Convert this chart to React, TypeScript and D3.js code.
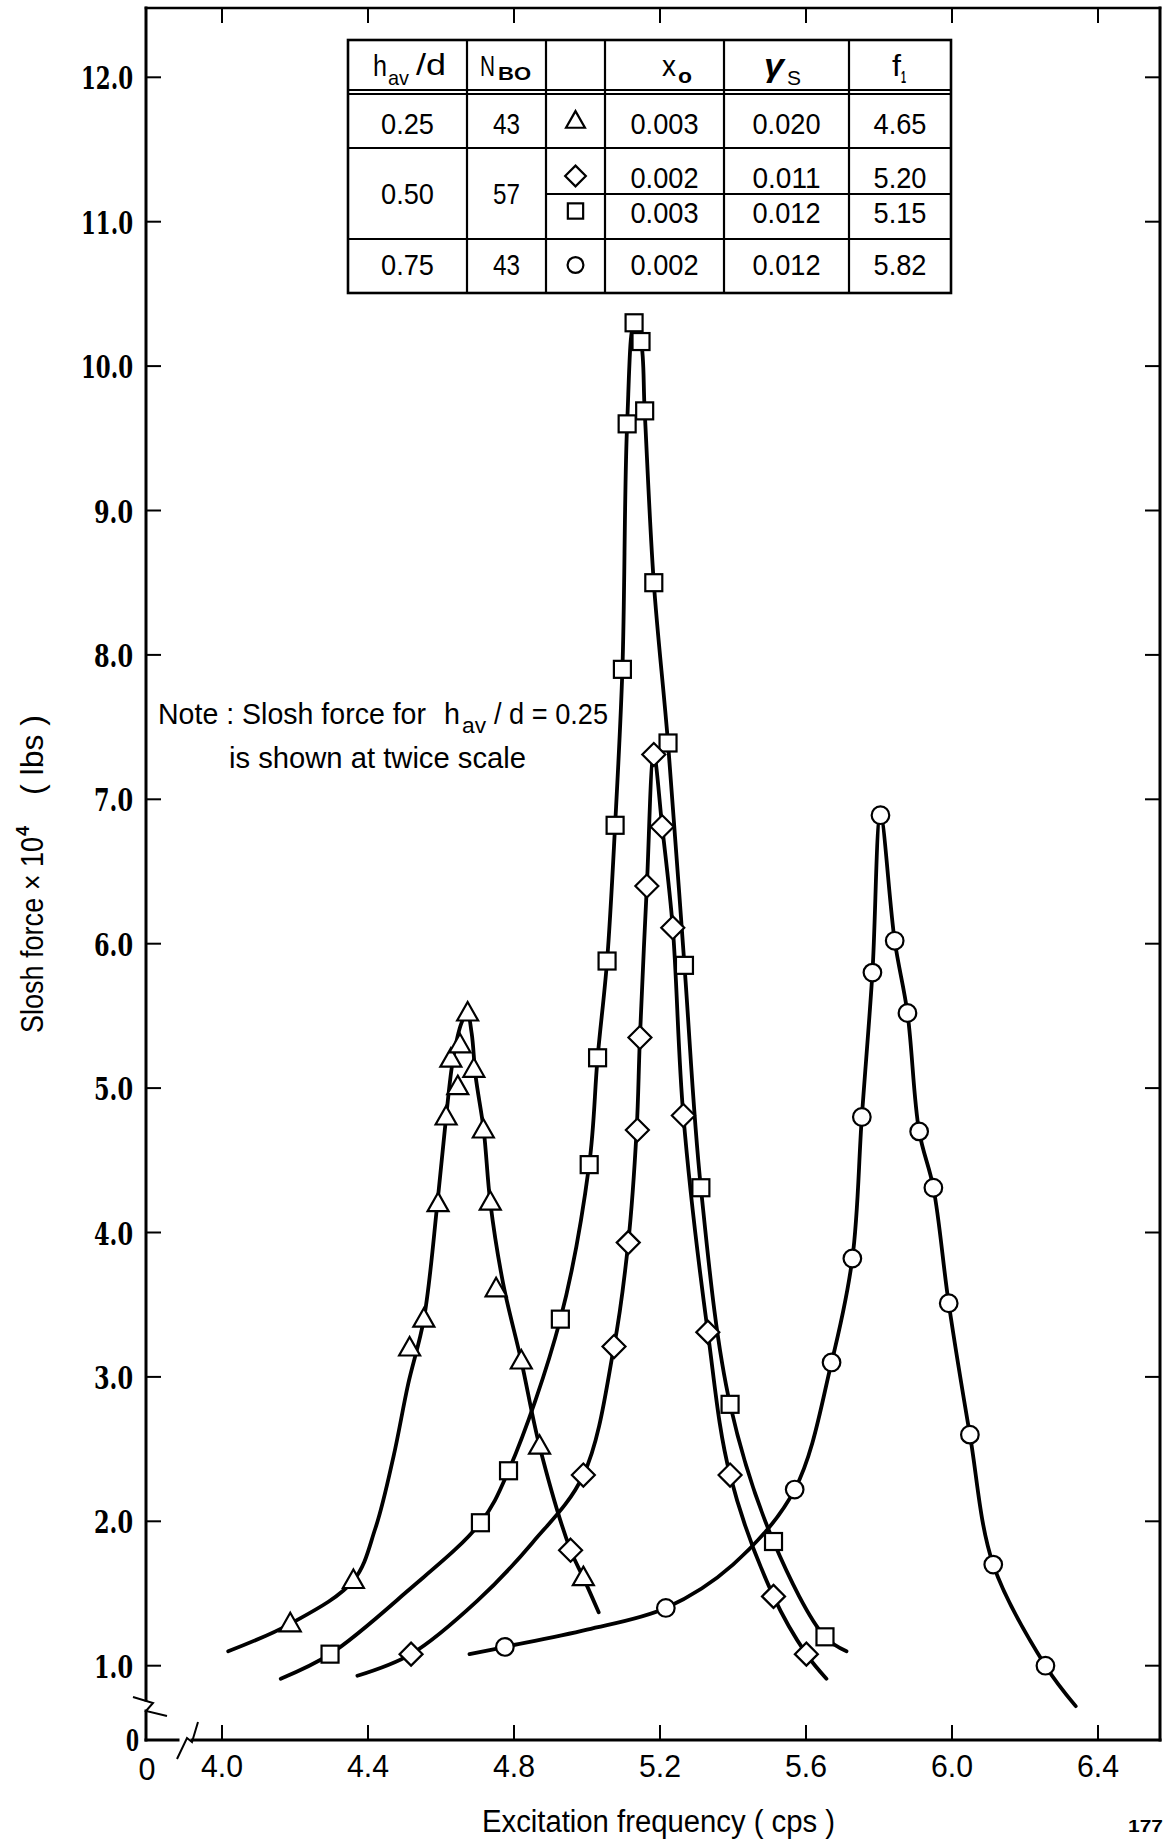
import React from "react";
import * as d3 from "d3";

// ---------- axis ticks ----------
const xTickValues = [4.0, 4.4, 4.8, 5.2, 5.6, 6.0, 6.4];
const xTickLabels = ["4.0", "4.4", "4.8", "5.2", "5.6", "6.0", "6.4"];
const yTickValues = [1, 2, 3, 4, 5, 6, 7, 8, 9, 10, 11, 12];
const yTickLabels = ["1.0", "2.0", "3.0", "4.0", "5.0", "6.0", "7.0", "8.0", "9.0", "10.0", "11.0", "12.0"];

// ---------- measured points [frequency (cps), slosh force x 10^4 (lbs)] ----------
const trianglePoints: [number, number][] = [
  [4.187, 1.29], [4.36, 1.59], [4.514, 3.2], [4.553, 3.4], [4.592, 4.2], [4.614, 4.8],
  [4.627, 5.2], [4.646, 5.01], [4.652, 5.3], [4.673, 5.52], [4.69, 5.13], [4.716, 4.71],
  [4.735, 4.21], [4.751, 3.61], [4.82, 3.11], [4.87, 2.52], [4.99, 1.61],
];
const diamondPoints: [number, number][] = [
  [4.518, 1.08], [4.955, 1.8], [4.99, 2.32], [5.074, 3.21], [5.113, 3.93], [5.138, 4.71],
  [5.145, 5.35], [5.164, 6.4], [5.183, 7.31], [5.206, 6.81], [5.235, 6.11], [5.264, 4.81],
  [5.331, 3.31], [5.392, 2.32], [5.511, 1.48], [5.601, 1.08],
];
const squarePoints: [number, number][] = [
  [4.296, 1.08], [4.708, 1.99], [4.785, 2.35], [4.927, 3.4], [5.006, 4.47], [5.029, 5.21],
  [5.055, 5.88], [5.077, 6.82], [5.097, 7.9], [5.11, 9.6], [5.129, 10.3], [5.148, 10.17],
  [5.158, 9.69], [5.183, 8.5], [5.222, 7.39], [5.267, 5.85], [5.312, 4.31], [5.392, 2.81],
  [5.511, 1.86], [5.652, 1.2],
];
const circlePoints: [number, number][] = [
  [4.775, 1.13], [5.216, 1.4], [5.569, 2.22], [5.67, 3.1], [5.727, 3.82], [5.753, 4.8],
  [5.782, 5.8], [5.804, 6.89], [5.843, 6.02], [5.878, 5.52], [5.91, 4.7], [5.949, 4.31],
  [5.991, 3.51], [6.049, 2.6], [6.113, 1.7], [6.256, 1.0],
];

// ---------- faired curves drawn through the data ----------
const triangleCurve: [number, number][] = [
  [4.017, 1.1], [4.187, 1.29], [4.36, 1.59], [4.42, 1.95], [4.47, 2.45], [4.51, 2.95],
  [4.553, 3.4], [4.59, 4.2], [4.614, 4.8], [4.633, 5.2], [4.656, 5.45], [4.672, 5.52],
  [4.684, 5.38], [4.695, 5.08], [4.717, 4.71], [4.735, 4.21], [4.77, 3.65], [4.82, 3.11],
  [4.87, 2.52], [4.955, 1.8], [4.99, 1.61], [5.032, 1.37],
];
const diamondCurve: [number, number][] = [
  [4.371, 0.93], [4.518, 1.08], [4.7, 1.45], [4.85, 1.85], [4.99, 2.32], [5.074, 3.21],
  [5.113, 3.93], [5.136, 4.71], [5.145, 5.35], [5.164, 6.4], [5.183, 7.31], [5.206, 6.81],
  [5.235, 6.11], [5.264, 4.81], [5.331, 3.31], [5.392, 2.32], [5.511, 1.48], [5.601, 1.08],
  [5.656, 0.91],
];
const squareCurve: [number, number][] = [
  [4.161, 0.91], [4.296, 1.08], [4.505, 1.51], [4.708, 1.99], [4.785, 2.35], [4.927, 3.4],
  [5.006, 4.47], [5.029, 5.21], [5.055, 5.88], [5.077, 6.82], [5.097, 7.9], [5.11, 9.6],
  [5.129, 10.3], [5.148, 10.17], [5.158, 9.69], [5.183, 8.5], [5.222, 7.39], [5.267, 5.85],
  [5.312, 4.31], [5.392, 2.81], [5.511, 1.86], [5.652, 1.2], [5.711, 1.1],
];
const circleCurve: [number, number][] = [
  [4.678, 1.08], [4.775, 1.13], [5.0, 1.25], [5.216, 1.4], [5.4, 1.7], [5.569, 2.22],
  [5.67, 3.1], [5.727, 3.82], [5.753, 4.8], [5.782, 5.8], [5.804, 6.89], [5.843, 6.02],
  [5.878, 5.52], [5.91, 4.7], [5.949, 4.31], [5.991, 3.51], [6.049, 2.6], [6.113, 1.7],
  [6.256, 1.0], [6.339, 0.72],
];

// ---------- table ----------
const tableHav = ["0.25", "0.50", "0.75"];
const tableNbo = ["43", "57", "43"];
const tableSymbols = ["triangle", "diamond", "square", "circle"];
const tableX0 = ["0.003", "0.002", "0.003", "0.002"];
const tableGamma = ["0.020", "0.011", "0.012", "0.012"];
const tableF1 = ["4.65", "5.20", "5.15", "5.82"];

const SANS = "'Liberation Sans', Arial, sans-serif";
const SERIF = "'DejaVu Serif', 'Liberation Serif', serif";

function T(props: any) {
  const { x, y, len, children, size = 28, anchor = "start", weight = "normal", family = SANS, italic } = props;
  return (
    <text
      x={x}
      y={y}
      fontSize={size}
      textAnchor={anchor}
      fontWeight={weight}
      fontFamily={family}
      fontStyle={italic ? "italic" : "normal"}
      textLength={len}
      lengthAdjust="spacingAndGlyphs"
      fill="#000"
    >
      {children}
    </text>
  );
}

function Marker({ shape, cx, cy, k = 1 }: { shape: string; cx: number; cy: number; k?: number }) {
  const common = { fill: "#fff", stroke: "#000", strokeWidth: 2.2 };
  if (shape === "triangle") {
    const w = 10.5 * k, h1 = 11 * k, h2 = 7.5 * k;
    return <path d={`M${cx},${cy - h1}L${cx + w},${cy + h2}L${cx - w},${cy + h2}Z`} {...common} />;
  }
  if (shape === "square") {
    const s = 8.5 * k;
    return <rect x={cx - s} y={cy - s} width={2 * s} height={2 * s} {...common} />;
  }
  if (shape === "diamond") {
    const s = 11.5 * k;
    return <path d={`M${cx},${cy - s}L${cx + s},${cy}L${cx},${cy + s}L${cx - s},${cy}Z`} {...common} />;
  }
  return <circle cx={cx} cy={cy} r={8.8 * k} {...common} />;
}

export default function App() {
  const x = d3.scaleLinear().domain([4.0, 6.4]).range([222, 1098]);
  const y = d3.scaleLinear().domain([1, 12]).range([1665.7, 77.3]);
  const line = d3
    .line<[number, number]>()
    .x((d) => x(d[0]))
    .y((d) => y(d[1]))
    .curve(d3.curveCatmullRom.alpha(0.5));

  const axL = 146, axR = 1160, axT = 8, axB = 1740;

  const series = [
    { shape: "triangle", pts: trianglePoints, curve: triangleCurve },
    { shape: "square", pts: squarePoints, curve: squareCurve },
    { shape: "diamond", pts: diamondPoints, curve: diamondCurve },
    { shape: "circle", pts: circlePoints, curve: circleCurve },
  ];

  // table layout
  const tL = 348, tR = 951, tT = 40, tB = 293;
  const cols = [348, 467, 546, 605, 724, 849, 951];
  const cc = (i: number) => (cols[i] + cols[i + 1]) / 2;
  const symRowY = [121, 176, 211, 265];
  const symRowBase = [134, 188, 223, 275];
  const mergedBase = [134, 204, 275];
  const numLen = (s: string) => (s.length === 5 ? 68 : s.length === 4 ? 53 : 27);

  return (
    <svg
      width={1166}
      height={1841}
      viewBox="0 0 1166 1841"
      style={{ position: "absolute", left: 0, top: 0, display: "block", background: "#fff" }}
    >
      <rect x={0} y={0} width={1166} height={1841} fill="#fff" />

      {/* frame */}
      <g stroke="#000" fill="none" strokeLinecap="square">
        <line x1={axL} y1={axT} x2={axR} y2={axT} strokeWidth={2.6} />
        <line x1={axR} y1={axT} x2={axR} y2={axB} strokeWidth={3} />
        <line x1={axL} y1={axT} x2={axL} y2={1700} strokeWidth={3} />
        <line x1={axL} y1={1711} x2={axL} y2={axB} strokeWidth={3} />
        <polyline points="133,1697 153,1703 146,1711 167,1716" strokeWidth={2} strokeLinecap="butt" />
        <line x1={axL} y1={axB} x2={178} y2={axB} strokeWidth={3} />
        <polyline points="177,1759 187,1738 192,1742 198,1722" strokeWidth={2} strokeLinecap="butt" />
        <line x1={192} y1={axB} x2={axR} y2={axB} strokeWidth={3} />
      </g>

      {/* ticks */}
      <g stroke="#000" strokeWidth={2}>
        {yTickValues.map((v) => (
          <g key={"yt" + v}>
            <line x1={axL} x2={axL + 15} y1={y(v)} y2={y(v)} />
            <line x1={axR} x2={axR - 15} y1={y(v)} y2={y(v)} />
          </g>
        ))}
        {xTickValues.map((v) => (
          <g key={"xt" + v}>
            <line x1={x(v)} x2={x(v)} y1={axB} y2={axB - 15} />
            <line x1={x(v)} x2={x(v)} y1={axT} y2={axT + 15} />
          </g>
        ))}
      </g>

      {/* tick labels */}
      {yTickValues.map((v, i) => (
        <T key={"yl" + v} x={133} y={y(v) + 12} anchor="end" size={32} family={SERIF} weight="bold"
          len={yTickLabels[i].length === 4 ? 52 : 39}>
          {yTickLabels[i]}
        </T>
      ))}
      <T x={139} y={1751} anchor="end" size={29} family={SERIF} weight="bold" len={13}>0</T>
      {xTickValues.map((v, i) => (
        <T key={"xl" + v} x={x(v)} y={1777} anchor="middle" size={31} len={42}>
          {xTickLabels[i]}
        </T>
      ))}
      <T x={147} y={1780} anchor="middle" size={31} len={17}>0</T>

      {/* axis titles */}
      <T x={482} y={1832} size={31} len={353}>Excitation frequency  ( cps )</T>
      <g transform="translate(43, 874) rotate(-90)">
        <T x={-159} y={0} size={31} len={196}>Slosh force × 10</T>
        <T x={38} y={-14} size={19} weight="bold" len={10}>4</T>
        <T x={79} y={0} size={31} len={80}>( lbs )</T>
      </g>
      <T x={1128} y={1832} size={17} weight="bold" len={35}>177</T>

      {/* note */}
      <T x={158} y={724} size={29} len={268}>Note : Slosh force for</T>
      <T x={444} y={724} size={29} len={16}>h</T>
      <T x={462} y={733} size={22} len={24}>av</T>
      <T x={494} y={724} size={29} len={114}>/ d  = 0.25</T>
      <T x={229} y={768} size={29} len={297}>is shown at twice scale</T>

      {/* curves */}
      <g fill="none" stroke="#000" strokeWidth={3.8} strokeLinecap="round" strokeLinejoin="round">
        {series.map((s) => (
          <path key={"c" + s.shape} d={line(s.curve) || ""} />
        ))}
      </g>
      {/* markers */}
      {series.map((s) =>
        s.pts.map((p, i) => <Marker key={s.shape + i} shape={s.shape} cx={x(p[0])} cy={y(p[1])} />)
      )}

      {/* table */}
      <g stroke="#000" fill="none">
        <rect x={tL} y={tT} width={tR - tL} height={tB - tT} strokeWidth={2.6} />
        {cols.slice(1, -1).map((cx) => (
          <line key={"tc" + cx} x1={cx} x2={cx} y1={tT} y2={tB} strokeWidth={2.2} />
        ))}
        <line x1={tL} x2={tR} y1={90} y2={90} strokeWidth={2.2} />
        <line x1={tL} x2={tR} y1={94} y2={94} strokeWidth={2.2} />
        <line x1={tL} x2={tR} y1={148} y2={148} strokeWidth={2.2} />
        <line x1={cols[2]} x2={tR} y1={194} y2={194} strokeWidth={2.2} />
        <line x1={tL} x2={tR} y1={239} y2={239} strokeWidth={2.2} />
      </g>
      {/* header */}
      <T x={373} y={76} size={29} len={14}>h</T>
      <T x={388} y={85} size={21} len={21}>av</T>
      <T x={416} y={75} size={29} len={30}>/d</T>
      <T x={480} y={76} size={29} len={15}>N</T>
      <T x={498} y={80} size={19} weight="bold" len={33}>BO</T>
      <T x={662} y={76} size={29} len={14}>x</T>
      <T x={678} y={83} size={21} weight="bold" len={14}>o</T>
      <T x={764} y={76} size={31} italic weight="bold" len={20}>γ</T>
      <T x={787} y={85} size={21} len={14}>S</T>
      <T x={892} y={76} size={29} len={9}>f</T>
      <T x={901} y={83} size={17} weight="bold" len={5}>1</T>
      {/* body */}
      {tableHav.map((t, i) => (
        <T key={"h" + i} x={cc(0)} y={mergedBase[i]} anchor="middle" size={29} len={numLen(t)}>{t}</T>
      ))}
      {tableNbo.map((t, i) => (
        <T key={"n" + i} x={cc(1)} y={mergedBase[i]} anchor="middle" size={29} len={numLen(t)}>{t}</T>
      ))}
      {tableSymbols.map((s, i) => (
        <Marker key={"ts" + i} shape={s} cx={cc(2)} cy={symRowY[i]} k={0.9} />
      ))}
      {tableX0.map((t, i) => (
        <T key={"x" + i} x={cc(3)} y={symRowBase[i]} anchor="middle" size={29} len={numLen(t)}>{t}</T>
      ))}
      {tableGamma.map((t, i) => (
        <T key={"g" + i} x={cc(4)} y={symRowBase[i]} anchor="middle" size={29} len={numLen(t)}>{t}</T>
      ))}
      {tableF1.map((t, i) => (
        <T key={"f" + i} x={cc(5)} y={symRowBase[i]} anchor="middle" size={29} len={numLen(t)}>{t}</T>
      ))}
    </svg>
  );
}
